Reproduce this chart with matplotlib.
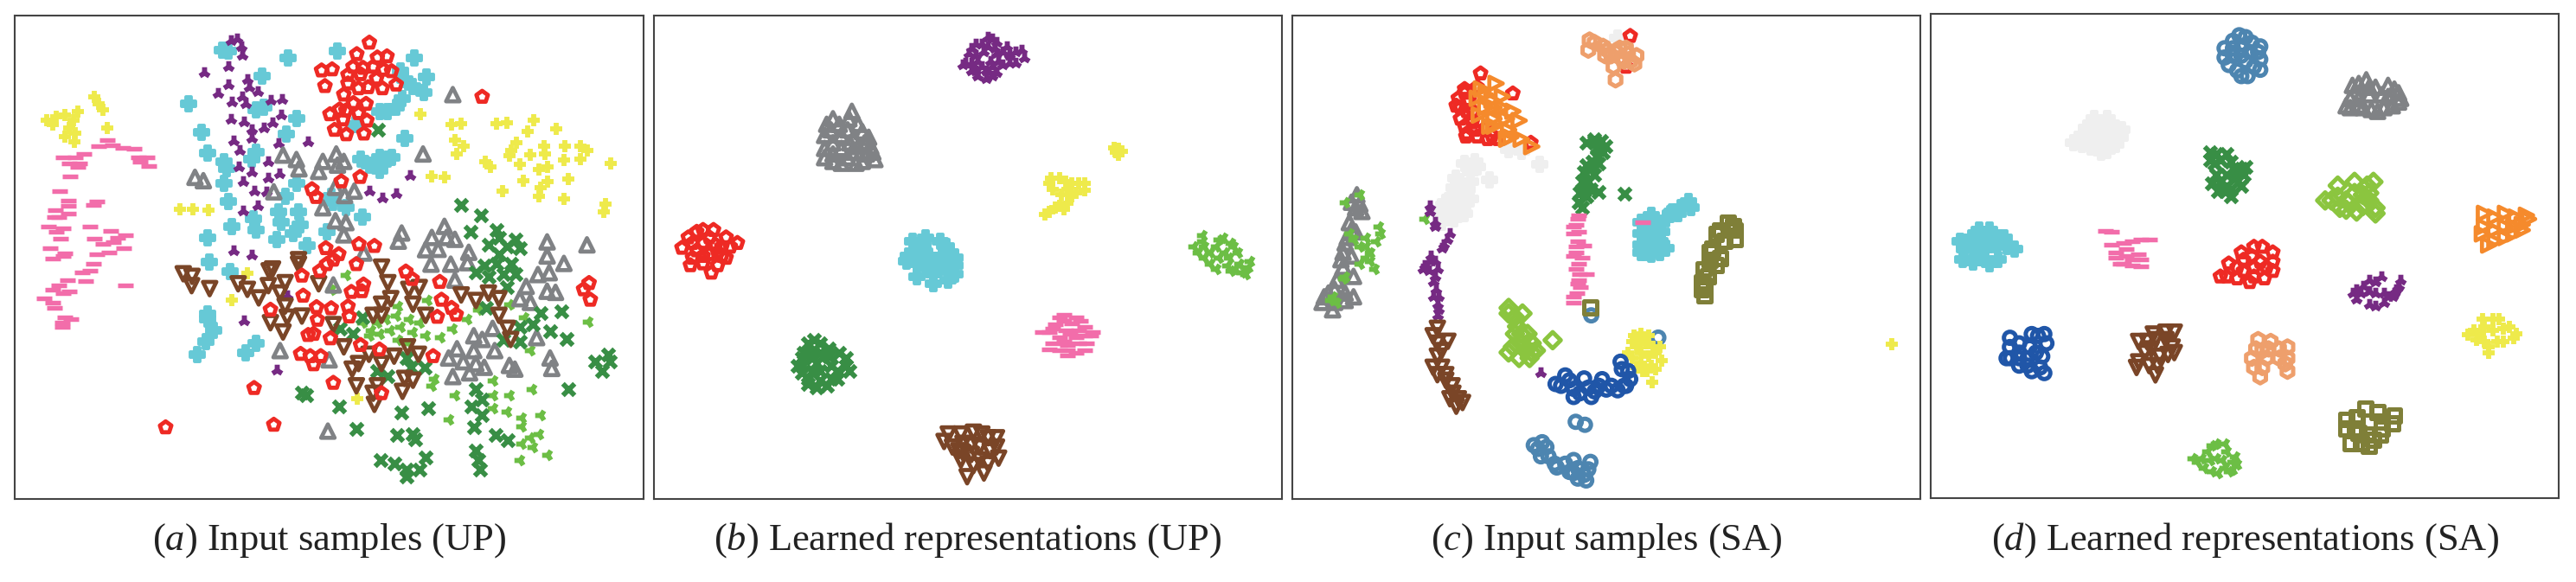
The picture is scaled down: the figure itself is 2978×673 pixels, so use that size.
import matplotlib
matplotlib.use("Agg")
import matplotlib.pyplot as plt

W, H = 2978, 673
plt.rcParams['font.family'] = ['Liberation Serif']
plt.rcParams['mathtext.fontset'] = 'custom'
plt.rcParams['mathtext.it'] = 'Liberation Serif:italic'
plt.rcParams['mathtext.rm'] = 'Liberation Serif'

RED = '#ee2a24'; CYAN = '#66c9d6'; PURPLE = '#762a83'; GRAY = '#808285'
PINK = '#f26daa'; YELLOW = '#eeea4b'; LGREEN = '#6cbe45'; DGREEN = '#388e45'
BROWN = '#7a4527'; STEEL = '#4d85b0'; DBLUE = '#2056a8'; OLIVE = '#7f7f38'
LIME = '#8bc53f'; LORANGE = '#ee9f6c'; ORANGE = '#f58a2c'; LGRAY = '#efefef'

a_red = [(881,115),(851,146),(900,155),(923,152),(767,190),(792,187),(842,180),(866,183),(890,180),(915,188),(934,192),(830,202),(860,200),(775,232),(898,212),(830,225),(855,238),(878,235),(912,238),(945,228),(820,255),(843,278),(873,280),(810,295),(825,298),(787,308),(855,305),(818,322),(875,325),(798,350),(826,362),(868,360),(1150,261),(814,489),(859,477),(744,510),(754,531),(856,658),(893,663),(777,669),(808,685),(795,700),(779,712),(850,712),(763,730),(720,743),(968,732),(983,752),(1049,760),(867,767),(838,787),(863,785),(723,797),(1053,808),(1077,830),(1088,848),(1043,854),(645,835),(755,828),(790,831),(830,826),(833,853),(757,862),(735,903),(748,900),(788,912),(860,930),(905,942),(1033,960),(717,954),(740,960),(765,960),(748,982),(795,1032),(910,1060),(606,1046),(395,1152),(653,1145),(1405,763),(1392,780),(1408,808)]
a_cyan = [(530,135),(545,138),(688,155),(805,138),(625,205),(988,155),(1018,207),(955,190),(965,215),(985,232),(1010,250),(960,265),(945,290),(925,300),(905,300),(450,280),(480,357),(495,413),(535,435),(540,455),(535,495),(545,542),(552,610),(495,640),(500,707),(548,732),(610,295),(630,290),(708,320),(683,362),(965,372),(610,410),(600,430),(860,430),(880,445),(905,425),(925,430),(905,460),(935,425),(707,493),(680,530),(795,545),(825,560),(790,530),(865,585),(605,590),(610,620),(665,570),(670,600),(712,570),(715,605),(700,630),(660,645),(780,625),(733,663),(848,335),(495,860),(510,890),(490,920),(470,955),(585,950),(610,925),(495,845)]
a_purple = [(565,105),(550,110),(575,125),(578,150),(545,180),(487,195),(545,228),(590,215),(520,252),(595,235),(615,248),(578,262),(553,275),(585,280),(645,270),(672,268),(670,310),(550,322),(582,328),(650,330),(630,345),(600,350),(558,380),(600,372),(572,405),(665,388),(735,383),(640,435),(570,450),(600,465),(580,490),(640,480),(667,468),(977,473),(607,515),(635,518),(880,516),(912,533),(945,521),(615,555),(580,568),(558,675),(600,687),(685,798),(582,865),(660,998)]
a_gray = [(465,478),(485,487),(675,418),(707,430),(713,455),(770,435),(760,462),(802,415),(820,435),(805,445),(1009,415),(1080,255),(653,517),(800,505),(845,515),(822,527),(770,560),(800,595),(825,600),(820,633),(868,682),(958,628),(950,650),(1060,610),(1030,640),(1015,673),(1045,672),(1065,640),(1085,645),(1118,680),(1028,712),(1075,712),(1115,708),(1305,652),(1305,690),(1400,660),(1345,710),(1283,740),(1310,735),(1085,755),(795,768),(1255,772),(1240,805),(1265,815),(1305,785),(1325,788),(1175,885),(1130,905),(1150,915),(1280,910),(1090,940),(1130,945),(1070,965),(1105,975),(1135,980),(1180,945),(1155,990),(1120,1005),(1080,1015),(1215,985),(1228,995),(1312,965),(1316,993),(668,945),(785,970),(782,1162)]
a_pink = [(255,378),(235,395),(268,392),(292,398),(320,400),(200,415),(150,425),(180,425),(165,440),(190,440),(330,425),(350,425),(335,437),(355,447),(185,450),(168,475),(143,516),(163,540),(230,542),(222,552),(163,555),(133,567),(163,575),(140,585),(130,585),(215,610),(115,610),(150,615),(135,625),(265,623),(300,633),(145,643),(225,643),(280,640),(270,652),(245,657),(120,668),(295,670),(155,683),(260,680),(230,686),(125,697),(150,690),(222,710),(195,735),(215,730),(160,755),(205,758),(140,770),(300,770),(165,785),(125,780),(150,790),(105,805),(125,815),(130,830),(155,855),(170,860),(148,870),(148,880)]
a_yellow = [(225,262),(235,280),(245,295),(112,325),(135,315),(155,310),(185,300),(175,325),(125,335),(165,345),(180,360),(155,368),(178,383),(256,346),(1003,308),(1078,335),(1100,333),(1185,333),(1210,332),(1272,325),(1326,348),(1258,355),(1085,378),(1105,395),(1090,415),(1232,385),(1220,405),(1215,420),(1297,395),(1300,415),(1265,418),(1347,395),(1385,395),(1400,405),(1158,435),(1170,450),(1240,443),(1345,432),(1385,430),(1305,450),(1285,458),(1457,440),(1030,476),(1060,478),(1248,488),(1355,483),(1305,490),(1290,505),(1285,530),(1198,515),(1345,535),(1445,550),(1440,570),(430,565),(460,565),(497,566),(590,736),(553,808),(852,1075)]
a_lgreen = [(825,742),(790,780),(1020,808),(1080,885),(1115,860),(1140,835),(1215,820),(1250,855),(950,825),(865,870),(885,890),(900,870),(920,860),(945,850),(975,860),(1000,870),(905,900),(930,890),(955,880),(985,895),(1015,905),(950,915),(975,925),(880,905),(1050,910),(1265,945),(1030,1040),(1035,1020),(1085,1065),(1175,1025),(1175,1065),(1215,1065),(1268,1048),(1175,1100),(1210,1110),(1245,1125),(1070,1130),(1290,1120),(1245,1150),(1285,1170),(1265,1180),(1245,1195),(1270,1205),(1305,1225),(1240,1240),(1402,867)]
a_dgreen = [(902,350),(1100,553),(1147,580),(1122,625),(1185,620),(1230,645),(1165,660),(1210,665),(1190,640),(1240,670),(1190,685),(1155,715),(1185,710),(1220,710),(1135,735),(1165,745),(1200,740),(1230,740),(1210,775),(1160,830),(1290,843),(1338,840),(1240,880),(1270,875),(1312,893),(1352,913),(1240,920),(1200,915),(865,855),(810,885),(842,900),(970,965),(980,990),(1012,990),(925,1015),(900,1000),(1420,975),(1450,955),(1455,975),(1435,1000),(1355,1048),(720,1058),(730,1065),(1135,1050),(1150,1078),(1125,1095),(1150,1120),(1130,1152),(808,1095),(958,1113),(1022,1100),(850,1157),(948,1172),(985,1170),(990,1185),(1182,1172),(1212,1187),(908,1240),(940,1250),(1015,1232),(970,1265),(1000,1265),(970,1285),(1135,1215),(1140,1240),(1145,1265)]
a_brown = [(437,738),(458,745),(457,770),(500,778),(568,765),(590,780),(617,803),(650,725),(642,730),(640,770),(680,762),(668,790),(712,700),(712,712),(680,825),(645,870),(685,855),(720,852),(675,895),(795,875),(760,765),(910,720),(925,762),(975,780),(1000,775),(932,805),(985,820),(1015,850),(890,850),(910,820),(910,850),(1100,795),(1135,810),(1165,790),(1190,805),(1190,850),(1210,885),(1218,915),(820,935),(880,955),(910,980),(940,960),(972,935),(998,955),(855,980),(840,995),(850,1040),(890,1060),(900,1040),(893,1090),(965,1020),(985,1025),(960,1055)]

b_purple = [(830,100),(800,120),(850,115),(875,125),(910,135),(915,155),(785,145),(820,140),(850,145),(880,150),(895,170),(775,170),(805,165),(835,165),(865,175),(790,190),(825,190),(850,195),(825,212),(845,130),(815,120),(790,130),(840,105),(865,140),(895,140),(800,150),(830,125),(790,170),(855,165),(880,170),(815,180),(840,180),(805,205),(770,175),(800,190),(840,205)]
b_gray = [(498,320),(445,335),(475,335),(520,335),(440,365),(480,365),(510,370),(545,370),(440,400),(480,400),(520,395),(555,410),(440,425),(460,435),(495,425),(530,435),(560,430),(460,320),(505,300),(455,350),(495,350),(530,355),(460,385),(500,385),(535,385),(460,415),(505,410),(540,415),(480,440),(515,440),(550,395)]
b_yellow = [(1140,405),(1140,400),(1135,410),(980,480),(1015,490),(1045,495),(985,510),(1020,510),(1060,512),(1030,530),(1000,555),(975,572),(1010,565),(1000,480),(1030,495),(975,495),(1005,525),(1040,520),(1060,495),(990,560),(965,578),(1020,548),(1130,398),(1150,408),(1140,418)]
b_red = [(175,620),(135,625),(150,620),(115,640),(205,640),(232,655),(100,668),(150,655),(180,660),(215,665),(125,695),(150,690),(185,680),(205,695),(120,715),(150,710),(185,715),(170,735),(125,655),(165,640),(195,665),(135,675),(165,685),(195,690)]
b_cyan = [(650,650),(715,650),(675,660),(640,690),(690,690),(740,680),(750,695),(635,705),(680,720),(725,720),(750,715),(660,745),(700,765),(735,755),(660,675),(720,690),(660,710),(700,705),(700,740),(730,665),(750,740),(680,640)]
b_lgreen = [(1340,650),(1380,645),(1410,655),(1330,680),(1360,680),(1395,680),(1425,680),(1360,710),(1400,715),(1430,710),(1450,720),(1435,735),(1410,730),(1345,695),(1375,665),(1405,695),(1320,665),(1380,695),(1345,665),(1420,725),(1445,740),(1390,640),(1375,725),(1415,665),(1455,705),(1340,635)]
b_pink = [(1000,855),(1040,855),(990,875),(1030,872),(1060,880),(975,895),(1015,890),(1075,905),(1000,910),(1040,910),(985,925),(1020,930),(1065,925),(1000,945),(1040,950),(1020,958),(1010,865),(1050,865),(985,885),(1045,890),(1080,895),(960,895),(1025,900),(1060,905),(1010,920),(1045,925),(1020,943),(1060,945),(975,942),(1010,848)]
b_dgreen = [(400,925),(430,925),(390,950),(430,950),(475,950),(385,985),(420,980),(455,985),(490,985),(400,1020),(430,1025),(470,1020),(420,1045),(415,915),(450,940),(385,965),(410,950),(450,960),(490,965),(410,965),(430,1000),(455,1020),(385,1005),(400,1035),(445,1040),(500,1000),(375,985),(470,1000),(410,1000)]
b_brown = [(735,1170),(795,1165),(830,1180),(850,1205),(745,1205),(790,1200),(855,1235),(765,1240),(810,1240),(780,1285),(820,1275),(765,1170),(815,1170),(725,1190),(770,1195),(810,1205),(770,1220),(835,1215),(790,1225),(830,1250),(795,1255),(760,1215),(850,1180)]

c_lorange = [(738,108),(770,125),(735,135),(800,140),(830,145),(790,150),(820,165),(795,180),(845,172),(800,215),(825,130),(850,150),(750,115),(780,135),(810,130),(815,155),(775,150),(835,165)]
c_red = [(478,198),(555,252),(835,97),(825,180),(440,240),(470,235),(425,265),(450,270),(445,300),(458,330),(440,340),(470,368),(443,368),(495,375),(520,375),(598,385),(490,345),(430,290),(460,300),(430,320),(465,350),(440,250),(420,285),(445,360),(505,365)]
c_orange = [(515,225),(490,255),(530,260),(490,290),(530,290),(555,300),(510,320),(570,325),(545,350),(510,340),(575,375),(600,395),(550,370),(480,240),(505,270),(470,265),(510,290),(475,310),(540,320),(500,340),(540,375)]
c_lgray = [(805,103),(545,403),(575,408),(620,442),(465,435),(440,440),(455,465),(430,490),(500,485),(415,505),(445,510),(410,530),(455,535),(380,565),(410,570),(385,600),(435,555),(450,450),(470,450),(420,480),(455,490),(425,520),(430,540),(395,545),(440,575),(415,590),(395,575)]
c_dgreen = [(750,380),(775,395),(730,385),(755,420),(745,450),(725,465),(735,490),(725,515),(760,517),(712,545),(730,530),(822,522),(755,400),(770,410),(745,435),(730,445),(760,440),(720,490),(750,470),(740,510),(715,520),(720,560),(750,375),(765,380)]
c_pink = [(712,580),(705,605),(700,630),(710,650),(725,662),(705,680),(712,712),(715,740),(710,765),(708,790),(700,815),(865,598),(710,590),(700,610),(712,625),(705,665),(720,695),(700,690),(705,725),(712,755),(716,775),(700,800),(730,740)]
c_cyan = [(975,543),(935,570),(885,580),(870,610),(900,610),(860,630),(905,650),(870,680),(905,680),(930,575),(955,560),(920,590),(885,600),(860,600),(890,640),(860,660),(885,660),(920,670),(860,680),(900,630),(885,685),(950,575),(980,560),(910,625)]
c_olive = [(1068,600),(1050,620),(1085,645),(1070,620),(1030,670),(1050,695),(1010,725),(1020,745),(1012,770),(1012,795),(740,828),(1060,650),(1040,630),(1080,610),(1025,680),(1040,715),(1025,700),(1005,760),(1005,780),(1085,620)]
c_steel = [(742,850),(902,910),(705,1137),(727,1145),(625,1192),(635,1205),(622,1230),(655,1250),(690,1272),(680,1250),(710,1262),(735,1265),(725,1280),(615,1210),(640,1230),(660,1260),(700,1275),(730,1295),(710,1290),(740,1245),(700,1240),(605,1200)]
c_dblue = [(680,1012),(657,1035),(700,1048),(725,1020),(735,1045),(768,1022),(742,1070),(778,1050),(805,1052),(835,1022),(815,995),(812,975),(715,1060),(690,1025),(750,1055),(830,1000),(825,1040),(790,1040),(820,1040),(760,1040),(670,1040),(700,1070)]
c_yellow = [(1458,928),(888,1030),(910,973),(895,995),(860,915),(880,905),(840,920),(890,935),(860,950),(830,950),(880,960),(860,980),(875,1000),(905,935),(850,935),(870,925),(840,965),(895,950),(865,1000),(850,990),(860,900),(885,985),(845,905)]
c_lime = [(545,830),(578,845),(565,880),(545,845),(600,925),(575,925),(650,917),(545,950),(570,965),(595,965),(575,900),(610,945),(560,855),(560,900),(590,900),(600,950),(555,935),(585,945)]
c_purple = [(357,555),(370,610),(405,630),(390,660),(345,715),(370,705),(340,725),(370,745),(372,780),(375,820),(375,850),(622,1005),(358,570),(370,600),(385,670),(360,690),(355,730),(375,725),(365,760),(378,800),(365,800),(378,835),(360,705),(398,645)]
c_brown = [(375,885),(400,920),(375,925),(375,960),(385,990),(410,1040),(395,1025),(420,1095),(435,1085),(405,1075),(365,905),(385,945),(365,990),(395,1010),(412,1060),(425,1075),(375,1010)]
c_gray = [(183,525),(180,560),(195,570),(165,600),(180,625),(155,655),(170,690),(150,720),(175,745),(130,780),(100,815),(175,800),(125,835),(155,790),(170,545),(190,550),(170,620),(160,640),(150,680),(145,700),(135,755),(115,790),(105,800),(155,810),(130,815)]
c_lgreen = [(155,545),(190,525),(240,630),(175,645),(205,665),(230,650),(205,695),(225,725),(155,745),(125,800),(345,590),(135,815),(190,665),(215,680),(190,710),(235,610),(165,630),(215,705),(150,750),(120,810),(205,640)]

d_steel = [(765,95),(730,130),(795,115),(770,130),(750,150),(780,165),(815,160),(740,175),(785,205),(815,188),(750,110),(780,100),(750,130),(810,140),(730,155),(770,150),(800,180),(760,190),(790,140),(815,125),(770,205)]
d_gray = [(1068,215),(1035,230),(1120,230),(1145,250),(1030,265),(1075,255),(1105,255),(1030,290),(1060,290),(1095,300),(1130,285),(1145,275),(1050,225),(1090,235),(1075,235),(1135,240),(1050,265),(1120,260),(1050,285),(1080,295),(1110,290),(1150,265),(1020,285)]
d_lgray = [(440,330),(400,345),(470,345),(380,375),(430,370),(480,370),(410,395),(450,405),(420,320),(450,320),(390,365),(415,350),(450,345),(455,375),(390,390),(430,395),(470,390),(435,410),(370,385),(485,350)]
d_dgreen = [(710,415),(735,415),(705,440),(770,455),(720,490),(755,480),(715,515),(745,530),(770,500),(695,410),(720,430),(745,435),(755,460),(735,470),(710,470),(700,495),(735,500),(775,470),(780,450),(745,510),(730,515),(695,430)]
d_lime = [(1085,490),(1040,490),(1000,500),(985,540),(1020,540),(1060,525),(1090,560),(1045,570),(1070,500),(1000,530),(1040,520),(1075,540),(1005,560),(970,540),(1075,520),(1020,565),(1090,575),(1060,555)]
d_orange = [(1350,575),(1400,575),(1450,580),(1350,610),(1400,610),(1440,605),(1375,650),(1420,630),(1375,585),(1425,585),(1345,630),(1375,620),(1420,610),(1455,590),(1360,660),(1400,640),(1440,620)]
d_cyan = [(170,620),(125,640),(205,640),(110,670),(160,670),(210,665),(130,705),(170,710),(145,620),(105,700),(185,660),(230,670),(150,650),(190,700),(100,650),(145,695),(190,640),(130,670)]
d_pink = [(460,625),(530,645),(490,655),(470,680),(525,685),(480,710),(530,718),(510,700),(460,660),(510,650),(470,695),(550,645),(530,700),(495,670),(510,715),(495,690),(490,710),(445,622)]
d_red = [(820,665),(845,680),(795,690),(740,710),(815,705),(845,705),(775,730),(735,745),(800,745),(825,750),(775,700),(770,680),(800,665),(830,720),(800,720),(760,720),(720,745),(760,750),(845,730),(790,760)]
d_purple = [(1075,755),(1105,745),(1150,755),(1140,780),(1045,780),(1075,785),(1045,805),(1075,820),(1110,815),(1130,800),(1090,760),(1060,770),(1120,800),(1145,770),(1090,790),(1110,790),(1055,790),(1090,825),(1035,790),(1135,790)]
d_yellow = [(1345,860),(1385,860),(1325,890),(1370,890),(1420,910),(1310,902),(1350,920),(1395,920),(1360,950),(1410,880),(1395,885),(1340,900),(1350,880),(1370,860),(1380,920),(1330,915),(1360,935),(1425,900)]
d_dblue = [(218,910),(285,905),(240,925),(305,925),(265,935),(220,965),(260,965),(295,960),(240,985),(270,1000),(300,1005),(218,935),(270,900),(300,900),(240,950),(280,950),(210,965),(240,965),(260,985),(290,990)]
d_brown = [(590,895),(525,920),(565,915),(605,935),(540,950),(575,960),(520,990),(565,1010),(560,900),(610,895),(545,920),(590,915),(555,940),(595,955),(525,975),(550,985),(570,985),(610,950)]
d_lorange = [(810,915),(880,935),(835,940),(795,965),(860,965),(820,990),(880,1000),(815,1015),(860,940),(820,945),(830,965),(880,965),(800,990),(875,980),(840,920),(805,940)]
d_olive = [(1065,1100),(1135,1120),(1045,1125),(1105,1135),(1075,1135),(1020,1155),(1050,1165),(1055,1195),(1085,1185),(1095,1110),(1040,1155),(1070,1170),(1105,1155),(1130,1140),(1030,1195),(1075,1200),(1100,1170),(1020,1130)]
d_lgreen = [(710,1195),(675,1235),(710,1235),(755,1230),(700,1270),(750,1265),(690,1215),(730,1195),(735,1215),(665,1245),(725,1240),(750,1245),(680,1260),(715,1275),(730,1260),(760,1250),(655,1235),(695,1240),(740,1270),(700,1200)]

captions = [("a", "Input samples (UP)"), ("b", "Learned representations (UP)"),
            ("c", "Input samples (SA)"), ("d", "Learned representations (SA)")]

# name: marker, size (pt^2), edge width (pt), hollow
STY = {
    'pent': ('p', 100, 3.5, True), 'plusf': ('P', 130, 2.8, False), 'tri': ('2', 95, 4.2, False),
    'up': ('^', 125, 3.4, True), 'dash': ('_', 170, 3.9, False), 'plus': ('+', 110, 4.2, False),
    'lg': ('3', 95, 4.2, False), 'x': ('x', 95, 4.2, False), 'down': ('v', 125, 3.4, True),
    'circ': ('o', 100, 3.6, True), 'square': ('s', 115, 3.6, True), 'diam': ('D', 90, 3.6, True),
    'hex': ('h', 120, 3.6, True), 'right': ('>', 125, 3.4, True),
}

def draw(ax, pts, color, kind):
    m, s, lw, hollow = STY[kind]
    xs = [p[0] for p in pts]; ys = [p[1] for p in pts]
    if hollow:
        ax.scatter(xs, ys, marker=m, s=s, facecolors='none', edgecolors=color, linewidths=lw)
    elif m == 'P':
        ax.scatter(xs, ys, marker=m, s=s, facecolors=color, edgecolors=color, linewidths=lw)
    else:
        ax.scatter(xs, ys, marker=m, s=s, color=color, linewidths=lw)

panels = [
    ((17, 743.5, 17.6, 577), (35, 1534, 1345, 41), [
        (a_cyan, CYAN, 'plusf'), (a_pink, PINK, 'dash'), (a_yellow, YELLOW, 'plus'), (a_purple, PURPLE, 'tri'),
        (a_lgreen, LGREEN, 'lg'), (a_gray, GRAY, 'up'), (a_dgreen, DGREEN, 'x'), (a_brown, BROWN, 'down'), (a_red, RED, 'pent')]),
    ((756, 1481.6, 17.6, 577), (33, 1530, 1345, 41), [
        (b_cyan, CYAN, 'plusf'), (b_pink, PINK, 'dash'), (b_yellow, YELLOW, 'plus'), (b_purple, PURPLE, 'tri'),
        (b_lgreen, LGREEN, 'lg'), (b_gray, GRAY, 'up'), (b_dgreen, DGREEN, 'x'), (b_brown, BROWN, 'down'), (b_red, RED, 'pent')]),
    ((1494, 2220, 17.6, 577), (29, 1527, 1345, 41), [
        (c_lgray, LGRAY, 'plusf'), (c_red, RED, 'pent'), (c_orange, ORANGE, 'right'), (c_lorange, LORANGE, 'hex'),
        (c_cyan, CYAN, 'plusf'), (c_gray, GRAY, 'up'), (c_lgreen, LGREEN, 'lg'), (c_purple, PURPLE, 'tri'), (c_brown, BROWN, 'down'),
        (c_dgreen, DGREEN, 'x'), (c_pink, PINK, 'dash'), (c_steel, STEEL, 'circ'), (c_olive, OLIVE, 'square'),
        (c_lime, LIME, 'diam'), (c_yellow, YELLOW, 'plus'), (c_dblue, DBLUE, 'circ')]),
    ((2232, 2958, 16.3, 575.6), (29, 1527, 1341, 38), [
        (d_steel, STEEL, 'circ'), (d_gray, GRAY, 'up'), (d_lgray, LGRAY, 'plusf'), (d_dgreen, DGREEN, 'x'),
        (d_lime, LIME, 'diam'), (d_orange, ORANGE, 'right'), (d_cyan, CYAN, 'plusf'), (d_pink, PINK, 'dash'),
        (d_red, RED, 'pent'), (d_purple, PURPLE, 'tri'), (d_yellow, YELLOW, 'plus'), (d_dblue, DBLUE, 'circ'),
        (d_brown, BROWN, 'down'), (d_lorange, LORANGE, 'hex'), (d_olive, OLIVE, 'square'), (d_lgreen, LGREEN, 'lg')]),
]

fig = plt.figure(figsize=(W / 100, H / 100), dpi=100)
for (px, lim, layers), (letter, cap) in zip(panels, captions):
    x0, x1, y0, y1 = px
    ax = fig.add_axes([x0 / W, 1 - y1 / H, (x1 - x0) / W, (y1 - y0) / H])
    ax.set_xlim(lim[0], lim[1]); ax.set_ylim(lim[2], lim[3])
    ax.set_xticks([]); ax.set_yticks([])
    for sp in ax.spines.values():
        sp.set_linewidth(1.5); sp.set_color('#444444')
    for pts, col, kind in layers:
        draw(ax, pts, col, kind)
    fig.text((x0 + x1) / 2 / W, 1 - 625 / H, f"($\\mathit{{{letter}}}$) {cap}",
             ha='center', va='center', fontsize=32, color='#222222')
fig.savefig('out.png', dpi=100)
